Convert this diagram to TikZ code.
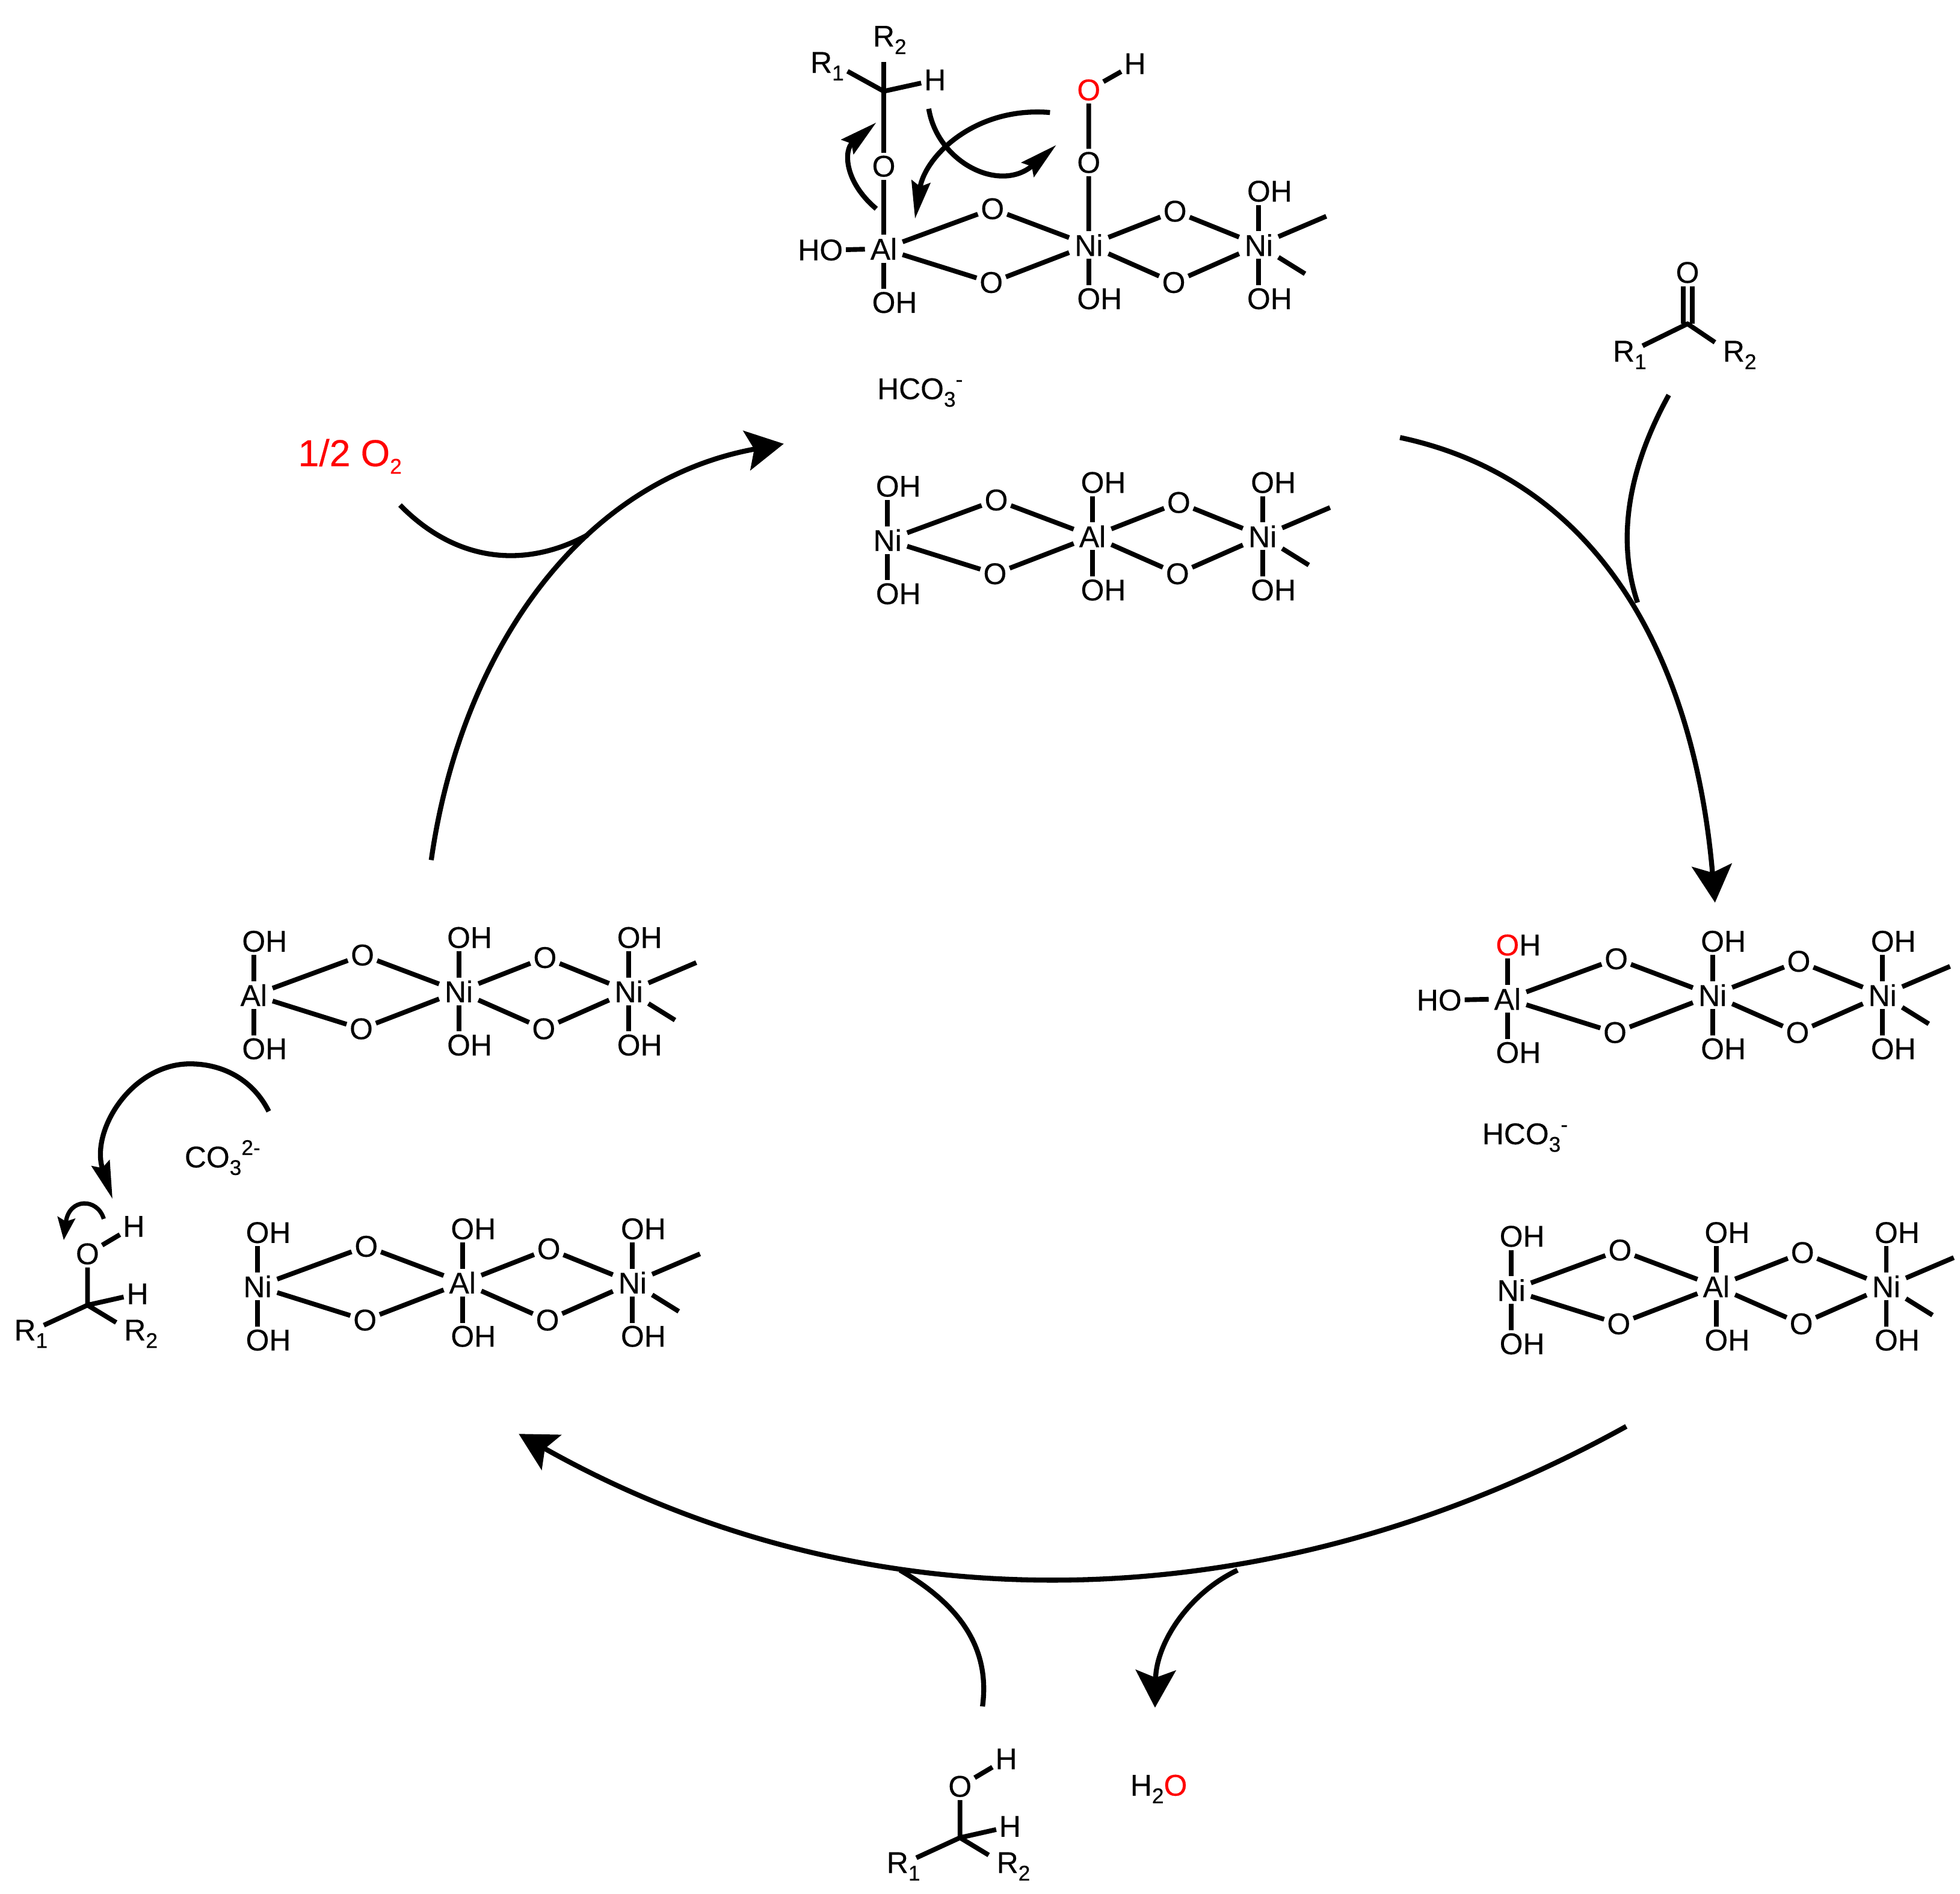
\documentclass[tikz,border=0pt]{standalone}
\usepackage{fontspec}
\setmainfont[FakeBold=0.3]{Liberation Sans}
\usetikzlibrary{arrows.meta}

\tikzset{
    atom/.style={inner sep=1pt, yshift=-0.5pt, font=\fontsize{12}{14}\selectfont},
    metal/.style={atom, inner xsep=2pt},
    rgroup/.style={atom, inner sep=3pt},
    bond/.style={line width=1.9pt, line join=round},
    curve/.style={line width=2pt},
    bigarrow/.style={curve, -{Stealth[length=15pt,width=16pt,inset=3pt]}},
    thinarrow/.style={curve, -{Stealth[length=15pt,width=7.5pt,inset=2pt]}},
    tinyarrow/.style={line width=1.7pt, -{Stealth[length=9pt,width=7pt,inset=1.5pt]}}
}

\newcommand{\subtxt}[1]{\raisebox{-3pt}{\fontsize{8.5}{9}\selectfont #1}}
\newcommand{\suptxt}[1]{\raisebox{5pt}{\fontsize{8.5}{9}\selectfont #1}}

% one hydroxide sheet, without the groups above its first two metals
\newcommand{\sheetfrag}[5]{%
    \begin{scope}[shift={(#2,#3)}]
        \node[metal] (#1m1) at (0,0) {#4};
        \node[atom] (#1o1) at (87,-32) {O};
        \node[atom] (#1o2) at (86,27) {O};
        \node[metal] (#1m2) at (164,-3) {#5};
        \node[atom] (#1o3) at (233,-30) {O};
        \node[atom] (#1o4) at (232,27) {O};
        \node[metal] (#1m3) at (300,-3) {Ni};
        \node[atom] (#1d1) at (0,43) {O\rlap{H}};
        \node[atom] (#1d2) at (164,40) {O\rlap{H}};
        \node[atom] (#1u3) at (300,-46) {O\rlap{H}};
        \node[atom] (#1d3) at (300,40) {O\rlap{H}};
        \coordinate (#1t1) at (354,-25);
        \coordinate (#1t2) at (337,21);
        \draw[bond] (#1m1) -- (#1o1) -- (#1m2) -- (#1o3) -- (#1m3) -- (#1o4) -- (#1m2) -- (#1o2) -- (#1m1);
        \draw[bond] (#1m1) -- (#1d1);
        \draw[bond] (#1m2) -- (#1d2);
        \draw[bond] (#1u3) -- (#1m3) -- (#1d3);
        \draw[bond] (#1m3) -- (#1t1);
        \draw[bond] (#1m3) -- (#1t2);
    \end{scope}%
}

% the alcohol, placed by its central carbon
\newcommand{\alcoholfrag}[3]{%
    \begin{scope}[shift={(#2,#3)}]
        \coordinate (#1c) at (0,0);
        \node[atom] (#1o) at (0,-42) {O};
        \node[atom] (#1h) at (37,-64) {H};
        \node[atom] (#1hc) at (40,-10) {H};
        \node[rgroup] (#1r1) at (-50,22) {R\rlap{\subtxt{1}}};
        \node[rgroup] (#1r2) at (38,22) {R\rlap{\subtxt{2}}};
        \draw[bond] (#1o) -- (#1h);
        \draw[bond] (#1o) -- (#1c) -- (#1hc);
        \draw[bond] (#1r1) -- (#1c) -- (#1r2);
    \end{scope}%
}

\begin{document}
\begin{tikzpicture}[x=0.5pt, y=-0.5pt]
    \useasboundingbox (0,0) rectangle (1568,1514.6);

    % Top sheet with the bound alkoxide and hydroperoxide
    \sheetfrag{SA}{707}{198}{Al}{Ni}
    \node[atom] (SAl) at (665,199) {\llap{H}O};
    \draw[bond] (SAl) -- (SAm1);
    \node[atom] (SAo) at (707,132) {O};
    \coordinate (SAc) at (707,73);
    \coordinate (SAe) at (678,57);
    \node[rgroup] (SAr1) at (657,52) {R\rlap{\subtxt{1}}};
    \node[rgroup] (SAr2) at (707,31) {R\rlap{\subtxt{2}}};
    \node[atom] (SAh) at (748,63) {H};
    \draw[bond] (SAm1) -- (SAo) -- (SAc) -- (SAr2);
    \draw[bond] (SAe) -- (SAc) -- (SAh);
    \node[atom] (SAp) at (871,129) {O};
    \node[atom, text=red] (SAq) at (871,71) {O};
    \node[atom] (SAi) at (908,50) {H};
    \draw[bond] (SAm2) -- (SAp) -- (SAq) -- (SAi);

    % Interlayer anion
    \node[atom] (HA) at (736,313) {HCO\subtxt{3}\suptxt{-}};

    % Second sheet
    \sheetfrag{SB}{710}{431}{Ni}{Al}
    \node[atom] (SBa) at (710,388) {O\rlap{H}};
    \node[atom] (SBb) at (874,385) {O\rlap{H}};
    \draw[bond] (SBa) -- (SBm1);
    \draw[bond] (SBb) -- (SBm2);

    % Right sheets
    \sheetfrag{SC}{1206}{798}{Al}{Ni}
    \node[atom] (SCa) at (1206,755) {{\color{red}O}\rlap{H}};
    \node[atom] (SCl) at (1160,799) {\llap{H}O};
    \node[atom] (SCb) at (1370,752) {O\rlap{H}};
    \draw[bond] (SCa) -- (SCm1);
    \draw[bond] (SCl) -- (SCm1);
    \draw[bond] (SCb) -- (SCm2);

    \node[atom] (HB) at (1220,909) {HCO\subtxt{3}\suptxt{-}};

    \sheetfrag{SD}{1209}{1031}{Ni}{Al}
    \node[atom] (SDa) at (1209,988) {O\rlap{H}};
    \node[atom] (SDb) at (1373,985) {O\rlap{H}};
    \draw[bond] (SDa) -- (SDm1);
    \draw[bond] (SDb) -- (SDm2);

    % Left sheets
    \sheetfrag{SE}{203}{795}{Al}{Ni}
    \node[atom] (SEa) at (203,752) {O\rlap{H}};
    \node[atom] (SEb) at (367,749) {O\rlap{H}};
    \draw[bond] (SEa) -- (SEm1);
    \draw[bond] (SEb) -- (SEm2);

    \node[atom] (CA) at (178,925) {CO\subtxt{3}\suptxt{2-}};

    \sheetfrag{SF}{206}{1028}{Ni}{Al}
    \node[atom] (SFa) at (206,985) {O\rlap{H}};
    \node[atom] (SFb) at (370,982) {O\rlap{H}};
    \draw[bond] (SFa) -- (SFm1);
    \draw[bond] (SFb) -- (SFm2);

    % Ketone
    \coordinate (Kc) at (1350,259);
    \node[atom] (Ko) at (1350,217) {O};
    \node[rgroup] (Kr1) at (1299,283) {R\rlap{\subtxt{1}}};
    \node[rgroup] (Kr2) at (1387,283) {R\rlap{\subtxt{2}}};
    \draw[bond] (Kr1) -- (Kc) -- (Kr2);
    \draw[bond] ([xshift=-1.8pt]Ko.south) -- ([xshift=-1.8pt]Kc);
    \draw[bond] ([xshift=1.8pt]Ko.south) -- ([xshift=1.8pt]Kc);

    % Alcohols
    \alcoholfrag{AL}{768}{1470}
    \alcoholfrag{AK}{70}{1044}

    % Small molecules
    \node[atom, font=\fontsize{15}{18}\selectfont, text=red] (OX) at (280,364) {1/2 O\subtxt{2}};
    \node[atom] (WA) at (927,1430) {H\subtxt{2}{\color{red}O}};

    % Catalytic cycle
    \coordinate (Ra) at (1120,350);
    \coordinate (Rb) at (1372,722);
    \coordinate (Rj) at (1310,482);
    \coordinate (Rs) at (1335,316);
    \draw[bigarrow] (Ra) .. controls (1285,385) and (1356,535) .. (Rb);
    \draw[curve] (Rs) .. controls (1297,385) and (1296,440) .. (Rj);

    \coordinate (Ba) at (1301,1141);
    \coordinate (Bb) at (415,1147);
    \coordinate (Bj) at (720,1256);
    \coordinate (Bs) at (786,1365);
    \coordinate (Bk) at (990,1256);
    \coordinate (Bt) at (924,1366);
    \draw[bigarrow] (Ba) .. controls (1010,1302) and (690,1302) .. (Bb);
    \draw[curve] (Bs) .. controls (792,1320) and (770,1285) .. (Bj);
    \draw[bigarrow] (Bk) .. controls (950,1275) and (925,1315) .. (Bt);

    \coordinate (La) at (345,688);
    \coordinate (Lb) at (627,355);
    \coordinate (Lj) at (470,428);
    \coordinate (Ls) at (320,404);
    \draw[bigarrow] (La) .. controls (368,525) and (462,385) .. (Lb);
    \draw[curve] (Ls) .. controls (365,450) and (420,455) .. (Lj);

    % Electron pushing arrows
    \coordinate (Ea) at (701,167);
    \coordinate (Eb) at (701,98);
    \coordinate (Ec) at (743,87);
    \coordinate (Ed) at (845,116);
    \coordinate (Ee) at (840,90);
    \coordinate (Ef) at (732,175);
    \draw[thinarrow] (Ea) .. controls (675,145) and (675,120) .. (Eb);
    \draw[thinarrow] (Ec) .. controls (750,130) and (800,155) .. (Ed);
    \draw[thinarrow] (Ee) .. controls (780,85) and (740,125) .. (Ef);

    \coordinate (Ga) at (215,889);
    \coordinate (Gb) at (90,959);
    \draw[thinarrow] (Ga) .. controls (203,865) and (180,851) .. (152,851) .. controls (105,851) and (72,905) .. (Gb);
    \coordinate (Ha) at (83,975);
    \coordinate (Hb) at (51,992);
    \draw[tinyarrow] (Ha) .. controls (78,958) and (55,958) .. (Hb);
\end{tikzpicture}
\end{document}
